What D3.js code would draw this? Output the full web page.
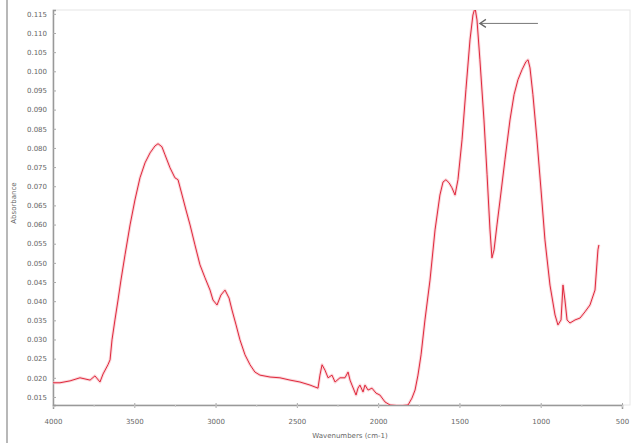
<!DOCTYPE html>
<html>
<head>
<meta charset="utf-8">
<script src="https://cdn.jsdelivr.net/npm/d3@7"></script>
<style>
  body { margin: 0; background: #fff; }
  svg text { font-family: "DejaVu Sans", sans-serif; }
</style>
</head>
<body>
<div id="spectrum"></div>
<script>
// spectrum values
const wavenumbers = [4000, 3957, 3895, 3834, 3772, 3742, 3711, 3692, 3662, 3649, 3637, 3619, 3600, 3582, 3557, 3526, 3496, 3465, 3434, 3403, 3373, 3354, 3330, 3311, 3280, 3250, 3231, 3206, 3182, 3157, 3127, 3096, 3065, 3034, 3016, 2991, 2967, 2942, 2917, 2899, 2874, 2850, 2819, 2788, 2758, 2727, 2665, 2604, 2542, 2481, 2419, 2370, 2358, 2345, 2327, 2308, 2284, 2265, 2235, 2204, 2185, 2173, 2161, 2136, 2124, 2112, 2093, 2081, 2062, 2038, 2013, 1989, 1958, 1927, 1866, 1816, 1792, 1773, 1755, 1736, 1712, 1681, 1650, 1620, 1601, 1583, 1564, 1546, 1527, 1509, 1484, 1460, 1435, 1417, 1404, 1392, 1374, 1349, 1330, 1312, 1300, 1287, 1269, 1250, 1220, 1189, 1164, 1140, 1115, 1091, 1078, 1066, 1048, 1023, 998, 974, 943, 912, 894, 875, 863, 851, 838, 820, 789, 758, 728, 697, 666, 648, 642];
const absorbance = [0.0187, 0.0187, 0.0192, 0.0200, 0.0194, 0.0205, 0.0189, 0.0210, 0.0234, 0.0247, 0.0299, 0.0351, 0.0403, 0.0455, 0.0521, 0.0599, 0.0664, 0.0722, 0.0761, 0.0787, 0.0805, 0.0811, 0.0803, 0.0782, 0.0748, 0.0722, 0.0717, 0.0677, 0.0638, 0.0599, 0.0547, 0.0495, 0.0461, 0.0429, 0.0403, 0.0390, 0.0416, 0.0429, 0.0408, 0.0377, 0.0338, 0.0299, 0.0260, 0.0234, 0.0215, 0.0207, 0.0202, 0.0200, 0.0194, 0.0189, 0.0181, 0.0173, 0.0207, 0.0234, 0.0220, 0.0200, 0.0207, 0.0189, 0.0200, 0.0200, 0.0215, 0.0194, 0.0181, 0.0155, 0.0173, 0.0181, 0.0163, 0.0181, 0.0168, 0.0173, 0.0160, 0.0155, 0.0137, 0.0129, 0.0127, 0.0129, 0.0147, 0.0168, 0.0207, 0.0260, 0.0351, 0.0455, 0.0586, 0.0677, 0.0711, 0.0717, 0.0709, 0.0696, 0.0677, 0.0717, 0.0821, 0.0952, 0.1082, 0.1147, 0.1166, 0.1134, 0.1030, 0.0873, 0.0730, 0.0586, 0.0513, 0.0534, 0.0599, 0.0664, 0.0769, 0.0873, 0.0939, 0.0978, 0.1004, 0.1025, 0.1030, 0.1009, 0.0939, 0.0821, 0.0690, 0.0560, 0.0442, 0.0364, 0.0338, 0.0351, 0.0442, 0.0403, 0.0351, 0.0343, 0.0351, 0.0356, 0.0372, 0.0390, 0.0429, 0.0534, 0.0547];

const xTicks = [4000, 3500, 3000, 2500, 2000, 1500, 1000, 500];
const yTicks = [0.115, 0.110, 0.105, 0.100, 0.095, 0.090, 0.085, 0.080, 0.075, 0.070, 0.065, 0.060, 0.055, 0.050, 0.045, 0.040, 0.035, 0.030, 0.025, 0.020, 0.015];

// arrow pointing at the main peak
const arrowFrom = { wn: 1017, a: 0.1125 };
const arrowTo = { wn: 1374, a: 0.1125 };

const margin = { top: 10, right: 4, bottom: 38, left: 53 },
    width = 634 - margin.left - margin.right,
    height = 443 - margin.top - margin.bottom;

const svgRoot = d3.select("#spectrum")
    .append("svg")
    .attr("width", 634)
    .attr("height", 443);

// outer window edge on the left
svgRoot.append("line")
    .attr("x1", 7).attr("x2", 7)
    .attr("y1", 0).attr("y2", 443)
    .attr("stroke", "#b8b8b8")
    .attr("stroke-width", 2);

const svg = svgRoot.append("g")
    .attr("transform", "translate(" + margin.left + "," + margin.top + ")");

const x = d3.scaleLinear()
    .domain([4000, 500])
    .range([0, 569]);

const y = d3.scaleLinear()
    .domain([0.0129, 0.1160])
    .range([height, 0]);

// frame
svg.append("rect")
    .attr("width", width)
    .attr("height", height)
    .attr("fill", "none")
    .attr("stroke", "#e6e6e6");

svg.append("defs").append("clipPath")
    .attr("id", "plotclip")
    .append("rect")
    .attr("width", width)
    .attr("height", height);

// X axis
const xAxis = svg.append("g")
    .attr("transform", "translate(0," + height + ")")
    .call(d3.axisBottom(x).tickValues(xTicks).tickFormat(d3.format("d")).tickSize(4).tickPadding(10));
xAxis.select(".domain").attr("stroke", "#999").attr("stroke-width", 1.5);
xAxis.selectAll(".tick line").attr("stroke", "#aaa").attr("y1", -2).attr("y2", 3);
xAxis.selectAll("text").attr("fill", "#666").style("font-size", "7px");

// minor x ticks
svg.append("g")
    .attr("transform", "translate(0," + height + ")")
    .call(d3.axisBottom(x).tickValues(d3.range(4000, 499, -250)).tickFormat("").tickSize(2))
    .call(g => g.select(".domain").remove())
    .selectAll("line").attr("stroke", "#ccc");

// Y axis
const yAxis = svg.append("g")
    .call(d3.axisLeft(y).tickValues(yTicks).tickFormat(d3.format(".3f")).tickSize(-3).tickPadding(6));
yAxis.select(".domain").attr("stroke", "#999").attr("stroke-width", 1.5);
yAxis.selectAll(".tick line").attr("stroke", "#aaa");
yAxis.selectAll("text").attr("fill", "#666").style("font-size", "7px");

// spectrum line
const line = d3.line()
    .x(function(d, i) { return x(wavenumbers[i]); })
    .y(function(d) { return y(d); });

const plot = svg.append("g").attr("clip-path", "url(#plotclip)");

plot.append("path")
    .datum(absorbance)
    .attr("fill", "none")
    .attr("stroke", "#f8c4ca")
    .attr("stroke-width", 3)
    .attr("stroke-opacity", 0.7)
    .attr("stroke-linejoin", "round")
    .attr("d", line);

plot.append("path")
    .datum(absorbance)
    .attr("fill", "none")
    .attr("stroke", "#e0283c")
    .attr("stroke-width", 1)
    .attr("stroke-linejoin", "round")
    .attr("d", line);

// arrow annotation
const ax1 = x(arrowFrom.wn), ax2 = x(arrowTo.wn), ay = y(arrowTo.a);
svg.append("line")
    .attr("x1", ax1).attr("y1", ay)
    .attr("x2", ax2).attr("y2", ay)
    .attr("stroke", "#777")
    .attr("stroke-width", 1);
svg.append("path")
    .attr("d", "M" + (ax2 + 6) + "," + (ay - 4) + " L" + ax2 + "," + ay + " L" + (ax2 + 6) + "," + (ay + 4))
    .attr("fill", "none")
    .attr("stroke", "#666")
    .attr("stroke-width", 1.3);

// axis labels
svgRoot.append("text")
    .attr("x", 350)
    .attr("y", 438)
    .attr("fill", "#666")
    .style("font-size", "7px")
    .style("text-anchor", "middle")
    .text("Wavenumbers (cm-1)");

svgRoot.append("text")
    .attr("transform", "translate(16,203) rotate(-90)")
    .attr("fill", "#666")
    .style("font-size", "7px")
    .style("text-anchor", "middle")
    .text("Absorbance");
</script>
</body>
</html>
